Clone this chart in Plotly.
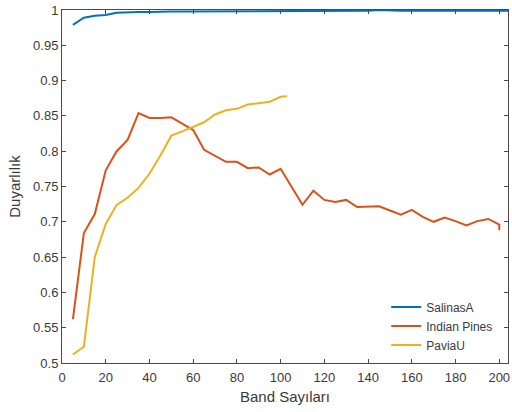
import plotly.graph_objects as go

x_salinas = [5, 10, 15, 20, 25, 30, 35, 40, 45, 50, 55, 60, 65, 70, 75, 80, 85, 90, 95, 100,
             105, 110, 115, 120, 125, 130, 135, 140, 145, 150, 155, 160, 165, 170, 175, 180,
             185, 190, 195, 200, 204]
y_salinas = [0.979, 0.989, 0.992, 0.993, 0.996, 0.997, 0.997, 0.997, 0.998, 0.998, 0.998, 0.998,
             0.998, 0.998, 0.999, 0.999, 0.999, 0.999, 0.999, 0.999, 0.999, 0.999, 0.999, 0.999,
             0.999, 0.999, 0.999, 0.999, 1.0, 0.999, 0.999, 0.999, 0.999, 0.999, 0.999, 0.999,
             0.999, 0.999, 0.999, 0.999, 0.999]

x_indian = [5, 10, 15, 20, 25, 30, 35, 40, 45, 50, 55, 60, 65, 70, 75, 80, 85, 90, 95, 100,
            105, 110, 115, 120, 125, 130, 135, 140, 145, 150, 155, 160, 165, 170, 175, 180,
            185, 190, 195, 200, 200]
y_indian = [0.562, 0.684, 0.711, 0.773, 0.800, 0.816, 0.854, 0.847, 0.847, 0.848, 0.839, 0.830,
            0.802, 0.794, 0.785, 0.785, 0.776, 0.777, 0.767, 0.775, 0.750, 0.724, 0.744, 0.731,
            0.728, 0.731, 0.721, 0.721, 0.722, 0.716, 0.710, 0.717, 0.707, 0.700, 0.706, 0.701,
            0.695, 0.701, 0.704, 0.696, 0.688]

x_pavia = [5, 10, 15, 20, 25, 30, 35, 40, 45, 50, 55, 60, 65, 70, 75, 80, 85, 90, 95, 100, 103]
y_pavia = [0.512, 0.523, 0.650, 0.697, 0.724, 0.734, 0.748, 0.768, 0.794, 0.822, 0.828, 0.835,
           0.841, 0.852, 0.858, 0.860, 0.866, 0.868, 0.870, 0.877, 0.878]

names = ["SalinasA", "Indian Pines", "PaviaU"]
colors = ["#0072BD", "#D95319", "#EDB120"]

y_ticks = [0.5, 0.55, 0.6, 0.65, 0.7, 0.75, 0.8, 0.85, 0.9, 0.95, 1.0]
y_tick_labels = ["0.5", "0.55", "0.6", "0.65", "0.7", "0.75", "0.8", "0.85", "0.9", "0.95", "1"]
x_ticks = [0, 20, 40, 60, 80, 100, 120, 140, 160, 180, 200]

fig = go.Figure()
for xs, ys, n, c in zip([x_salinas, x_indian, x_pavia], [y_salinas, y_indian, y_pavia], names, colors):
    fig.add_trace(go.Scatter(x=xs, y=ys, mode="lines", name=n,
                             line=dict(color=c, width=2)))

txt = "#3a3a3a"
axis_common = dict(showgrid=False, zeroline=False, showline=True, linecolor="#4a4a4a",
                   linewidth=1, mirror="ticks", ticks="inside", ticklen=4, tickcolor="#4a4a4a",
                   tickfont=dict(family="Liberation Sans, Arial", size=13, color=txt))

fig.update_layout(
    width=512, height=412,
    margin=dict(l=62, r=2, t=10, b=49),
    paper_bgcolor="white", plot_bgcolor="white",
    font=dict(family="Liberation Sans, Arial", color=txt),
    xaxis=dict(range=[0, 204], tickvals=x_ticks, ticklabelstandoff=2,
               ticklabeloverflow="allow",
               title=dict(text="Band Sayıları", font=dict(size=15, color=txt), standoff=7),
               **axis_common),
    yaxis=dict(range=[0.5, 1.0], tickvals=y_ticks, ticktext=y_tick_labels,
               title=dict(text="Duyarlılık", font=dict(size=15, color=txt), standoff=8),
               **axis_common),
    legend=dict(x=0.727, y=0.2, xanchor="left", yanchor="top",
                bgcolor="rgba(0,0,0,0)", borderwidth=0,
                font=dict(size=12, color=txt), tracegroupgap=0),
    showlegend=True,
)

fig.write_html("out.html")
